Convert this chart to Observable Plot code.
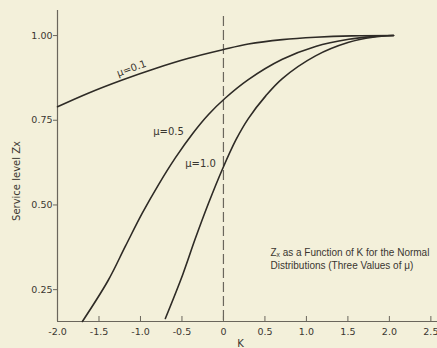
<!DOCTYPE html>
<html><head><meta charset="utf-8">
<script src="https://cdn.jsdelivr.net/npm/d3@7"></script>
<script src="https://cdn.jsdelivr.net/npm/@observablehq/plot@0.6"></script>
<style>
html,body{margin:0;padding:0;background:#f3f0da;}
#chart{width:437px;height:348px;}
</style></head><body><div id="chart"></div>
<script>
const kTicks = [-2.0, -1.5, -1.0, -0.5, 0, 0.5, 1.0, 1.5, 2.0, 2.5];
const kTickLabels = ["-2.0", "-1.5", "-1.0", "-0.5", "0", "0.5", "1.0", "1.5", "2.0", "2.5"];
const zTicks = [0.25, 0.50, 0.75, 1.00];
const zTickLabels = ["0.25", "0.50", "0.75", "1.00"];

const k_mu01 = [-2.0, -1.63, -1.22, -0.82, -0.42, -0.01, 0.30, 0.71, 1.11, 1.55, 2.05];
const z_mu01 = [0.790, 0.830, 0.869, 0.903, 0.933, 0.958, 0.975, 0.988, 0.995, 0.999, 1.0];
const k_mu05 = [-1.70, -1.39, -1.18, -0.98, -0.78, -0.58, -0.37, -0.18, 0.02, 0.30, 0.71, 1.11, 1.51, 1.80, 2.05];
const z_mu05 = [0.156, 0.277, 0.379, 0.475, 0.561, 0.639, 0.711, 0.767, 0.815, 0.870, 0.930, 0.968, 0.989, 0.997, 1.0];
const k_mu10 = [-0.70, -0.49, -0.34, -0.18, -0.01, 0.15, 0.30, 0.51, 0.71, 1.11, 1.51, 1.80, 2.05];
const z_mu10 = [0.165, 0.295, 0.400, 0.505, 0.607, 0.692, 0.755, 0.822, 0.873, 0.940, 0.980, 0.995, 1.0];

const seriesNames = ["μ=0.1", "μ=0.5", "μ=1.0"];
const labelK = [-1.108, -0.662, -0.276];
const labelZ = [0.903, 0.717, 0.622];
const labelAngle = [-20, 0, 0];

const noteText = "Zₓ as a Function of K for the Normal\nDistributions (Three Values of μ)";
const noteK = [0.567];
const noteZ = [0.341];

const xDomain = [-2, 2.58];
const yDomain = [0.156, 1.074];
const dashTop = 1.056;

const rows = [];
[[k_mu01, z_mu01], [k_mu05, z_mu05], [k_mu10, z_mu10]].forEach(([ks, zs], s) => {
  ks.forEach((k, i) => rows.push({series: seriesNames[s], k, z: zs[i]}));
});
const labels = seriesNames.map((name, i) => ({name, k: labelK[i], z: labelZ[i], a: labelAngle[i]}));

const ink = "#2e2b26";
const chart = Plot.plot({
  width: 437, height: 348,
  marginLeft: 57, marginRight: 0, marginTop: 10, marginBottom: 27,
  x: {domain: xDomain},
  y: {domain: yDomain},
  style: {background: "transparent", fontFamily: "DejaVu Sans, sans-serif", fontSize: "9.5px", color: "#3a3630"},
  marks: [
    Plot.ruleX([xDomain[0]], {stroke: "#6a665c", strokeWidth: 1.2}),
    Plot.ruleY([yDomain[0]], {stroke: "#6a665c", strokeWidth: 1.2}),
    Plot.ruleX([0], {y1: dashTop, y2: yDomain[0], stroke: "#6a665c", strokeWidth: 1.2, strokeDasharray: "10,4"}),
    Plot.axisX(kTicks, {tickSize: -5, tickPadding: 12, tickFormat: d => kTickLabels[kTicks.indexOf(d)], label: null, stroke: "#6a665c"}),
    Plot.axisY(zTicks, {tickSize: 4, tickPadding: 1, tickFormat: d => zTickLabels[zTicks.indexOf(d)], label: null, stroke: "#6a665c"}),
    Plot.line(rows, {x: "k", y: "z", z: "series", curve: "catmull-rom", stroke: ink, strokeWidth: 1.6}),
    Plot.text(labels, {x: "k", y: "z", text: "name", rotate: "a", fontSize: 10, fontFamily: "DejaVu Sans", fill: "#3a3630"}),
    Plot.text([noteText], {x: noteK, y: noteZ, text: d => d, textAnchor: "start", lineHeight: 1.3, fontSize: 10, fontFamily: "Liberation Sans, Arial, sans-serif", fill: "#3a3630"}),
    Plot.text(["Service level Zx"], {frameAnchor: "left", textAnchor: "middle", rotate: -90, dx: -41, dy: 15, fontSize: 10, fill: "#3a3630"}),
    Plot.text(["K"], {frameAnchor: "bottom", lineAnchor: "middle", dx: -7, dy: 22, fontSize: 10, fill: "#3a3630"})
  ]
});
document.getElementById("chart").appendChild(chart);
</script>
</body></html>
